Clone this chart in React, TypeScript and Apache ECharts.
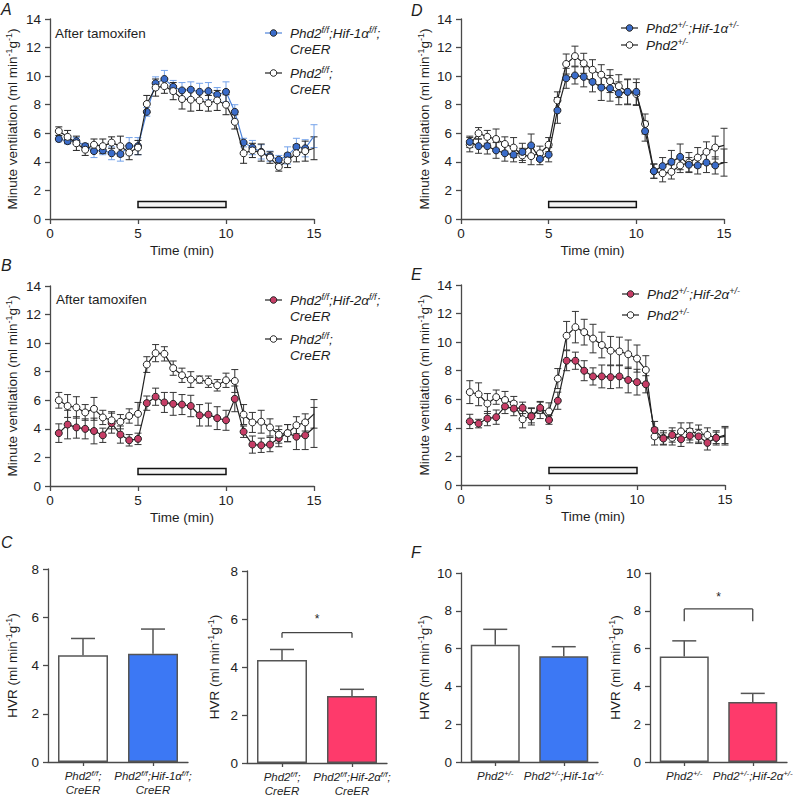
import React, { useEffect, useRef } from 'react';
import * as echarts from 'echarts';

const FONT = '"Liberation Sans", Arial, Helvetica, sans-serif';
const TXT = '#1e1e1e';
const AXIS = '#4a4a4a';
const FS = 13.5;

// ---------- time-course data ----------
const time = [0.5, 1, 1.5, 2, 2.5, 3, 3.5, 4, 4.5, 5, 5.5, 6, 6.5, 7, 7.5, 8, 8.5, 9, 9.5, 10, 10.5, 11, 11.5, 12, 12.5, 13, 13.5, 14, 14.5, 15];
const timeTicks = [0, 5, 10, 15];

// Panel A
const aHif1Mean = [5.6, 5.45, 5.45, 5.1, 4.75, 4.8, 4.6, 4.55, 5.1, 5.1, 7.5, 9.5, 9.8, 9.25, 9.0, 9.05, 8.9, 8.95, 8.7, 8.9, 7.5, 5.35, 5.0, 4.7, 4.4, 4.15, 4.45, 5.05, 4.95, 5.8];
const aHif1Err = [0.2, 0.2, 0.25, 0.2, 0.45, 0.3, 0.45, 0.5, 0.6, 0.6, 0.3, 0.45, 0.6, 0.45, 0.55, 0.55, 0.6, 0.6, 0.5, 0.7, 0.5, 0.3, 0.5, 0.5, 0.35, 0.3, 0.6, 0.6, 0.6, 0.8];
const aCtrlMean = [6.15, 5.75, 5.3, 4.85, 5.2, 5.1, 5.35, 5.1, 4.65, 5.0, 8.05, 9.2, 9.3, 8.95, 8.4, 8.35, 8.3, 8.1, 8.3, 8.0, 6.8, 4.6, 4.8, 4.65, 4.3, 3.65, 4.1, 4.6, 4.75, 4.95];
const aCtrlErr = [0.3, 0.45, 0.5, 0.4, 0.4, 0.5, 0.4, 0.7, 0.5, 0.5, 0.6, 0.6, 0.5, 0.6, 0.7, 0.8, 0.7, 0.55, 0.7, 0.7, 0.5, 0.7, 0.5, 0.6, 0.4, 0.3, 0.5, 0.6, 0.7, 0.8];

// Panel D
const dHif1Mean = [5.4, 5.1, 5.1, 4.8, 4.6, 4.5, 4.7, 5.15, 4.2, 4.5, 7.6, 9.85, 10.05, 9.95, 9.6, 9.2, 9.15, 8.8, 8.9, 8.9, 6.15, 3.35, 3.7, 4.0, 4.35, 3.8, 3.75, 3.95, 3.75, 3.95];
const dHif1Err = [0.4, 0.5, 0.55, 0.55, 0.55, 0.5, 0.6, 0.8, 0.4, 0.5, 0.9, 0.7, 0.6, 0.7, 0.7, 0.9, 0.9, 0.8, 0.9, 0.9, 0.7, 0.5, 0.6, 0.8, 0.9, 0.5, 0.6, 0.7, 0.6, 0.95];
const dCtrlMean = [5.2, 6.0, 5.75, 5.6, 5.25, 5.0, 4.45, 4.4, 4.6, 5.2, 8.3, 10.85, 11.4, 10.9, 10.45, 10.1, 9.65, 9.3, 8.9, 8.75, 6.65, 3.35, 3.2, 3.3, 3.75, 3.95, 4.3, 4.7, 5.0, 5.15];
const dCtrlErr = [0.5, 0.4, 0.45, 0.7, 0.5, 0.7, 0.5, 0.6, 0.5, 0.5, 0.6, 0.7, 0.7, 0.7, 0.7, 0.7, 0.8, 0.8, 0.85, 0.8, 0.7, 0.5, 0.6, 0.5, 0.5, 0.7, 0.7, 0.7, 0.8, 1.2];

// Panel B
const bHif2Mean = [3.7, 4.3, 4.1, 4.0, 3.85, 3.55, 4.4, 3.6, 3.2, 3.3, 5.8, 6.25, 5.85, 5.75, 5.7, 5.6, 4.95, 5.0, 4.75, 4.6, 6.1, 3.8, 2.9, 2.85, 2.9, 3.35, 3.7, 3.45, 3.55, 4.1];
const bHif2Err = [0.65, 1.0, 0.75, 0.7, 0.9, 0.5, 0.7, 0.6, 0.4, 0.4, 0.5, 0.6, 0.7, 0.8, 0.7, 0.75, 0.75, 0.8, 0.8, 0.7, 0.9, 0.4, 0.6, 0.5, 0.5, 0.6, 0.6, 0.9, 1.0, 1.4];
const bCtrlMean = [6.0, 5.6, 5.5, 5.15, 5.4, 4.8, 4.6, 4.5, 4.9, 5.05, 8.5, 9.3, 9.25, 8.25, 7.75, 7.45, 7.45, 7.3, 7.05, 7.4, 7.35, 5.0, 4.45, 4.5, 4.1, 3.6, 3.7, 4.25, 4.45, 5.05];
const bCtrlErr = [0.55, 0.8, 0.75, 0.55, 0.8, 0.5, 0.6, 0.5, 0.5, 0.8, 0.55, 0.6, 0.5, 0.5, 0.5, 0.55, 0.25, 0.4, 0.4, 0.5, 0.8, 0.7, 0.7, 0.8, 0.6, 0.6, 0.6, 0.6, 0.6, 1.0];

// Panel E
const eHif2Mean = [4.45, 4.3, 4.65, 4.75, 5.5, 5.35, 5.4, 4.8, 5.4, 4.55, 5.9, 8.7, 8.7, 8.0, 7.6, 7.6, 7.55, 7.6, 7.35, 7.2, 7.05, 3.85, 3.25, 3.5, 3.2, 3.45, 3.4, 2.95, 3.3, 3.4];
const eHif2Err = [0.5, 0.3, 0.5, 0.5, 0.5, 0.5, 0.4, 0.6, 0.4, 0.3, 0.6, 0.7, 0.6, 0.7, 0.6, 0.8, 0.8, 0.8, 0.9, 0.9, 0.6, 0.6, 0.4, 0.5, 0.5, 0.5, 0.5, 0.5, 0.4, 0.6];
const eCtrlMean = [6.5, 6.35, 5.7, 6.15, 5.95, 5.7, 4.6, 4.85, 5.25, 5.15, 7.45, 10.45, 11.05, 10.7, 10.25, 9.8, 9.4, 9.35, 9.15, 8.85, 8.05, 3.4, 3.3, 3.3, 3.75, 3.75, 3.6, 3.5, 3.3, 3.5];
const eCtrlErr = [0.8, 0.8, 0.7, 0.5, 0.6, 0.5, 0.6, 0.5, 0.6, 0.6, 0.7, 1.0, 1.1, 0.9, 1.0, 0.9, 1.0, 1.0, 1.0, 0.95, 1.0, 0.6, 0.5, 0.5, 0.6, 0.6, 0.6, 0.5, 0.5, 0.6];

// hypoxia period box
const hypoxiaStart = 5;
const hypoxiaEnd = 10;
const boxLow = 0.8;
const boxHigh = 1.22;

// ---------- HVR bar data ----------
const catC1 = ['Phd2f/f;CreER', 'Phd2f/f;Hif-1αf/f;CreER'];
const catC2 = ['Phd2f/f;CreER', 'Phd2f/f;Hif-2αf/f;CreER'];
const catF1 = ['Phd2+/-', 'Phd2+/-;Hif-1α+/-'];
const catF2 = ['Phd2+/-', 'Phd2+/-;Hif-2α+/-'];
const c1Mean = [4.42, 4.49];
const c1Err = [0.7, 1.02];
const c2Mean = [4.29, 2.79];
const c2Err = [0.44, 0.28];
const f1Mean = [6.2, 5.6];
const f1Err = [0.82, 0.5];
const f2Mean = [5.58, 3.17];
const f2Err = [0.83, 0.46];
// significance brackets: [cat from, cat to, bar level, leg end, star level]
const c2Sig = [[0, 1, 5.43, 5.22, 6.02]];
const f2Sig = [[0, 1, 8.1, 7.45, 8.75]];

const hvrTicksC = [0, 2, 4, 6, 8];
const hvrTicksF = [0, 2, 4, 6, 8, 10];

// colours
const BLUE_FILL = '#3a6cca';
const BLUE_LINE = '#4d84db';
const BLUE_ERR = '#74a3ea';
const PINK_FILL = '#c63d66';
const BAR_BLUE = '#3c78f4';
const BAR_PINK = '#fe3a6b';

const richLabels: Record<string, string> = {
  'Phd2f/f;CreER': '{i|Phd2}{s|f/f}{i|;}\n{i|CreER}',
  'Phd2f/f;Hif-1αf/f;CreER': '{i|Phd2}{s|f/f}{i|;Hif-1α}{s|f/f}{i|;}\n{i|CreER}',
  'Phd2f/f;Hif-2αf/f;CreER': '{i|Phd2}{s|f/f}{i|;Hif-2α}{s|f/f}{i|;}\n{i|CreER}',
  'Phd2+/-': '{i|Phd2}{s|+/-}',
  'Phd2+/-;Hif-1α+/-': '{i|Phd2}{s|+/-}{i|;Hif-1α}{s|+/-}',
  'Phd2+/-;Hif-2α+/-': '{i|Phd2}{s|+/-}{i|;Hif-2α}{s|+/-}',
};

const gridDefs = [
  { left: 50, top: 19, width: 264, height: 200 }, // A
  { left: 461, top: 19, width: 263, height: 200 }, // D
  { left: 50, top: 286, width: 264, height: 200 }, // B
  { left: 461, top: 285, width: 264, height: 200 }, // E
  { left: 48, top: 569, width: 140, height: 193 }, // C1
  { left: 247, top: 571, width: 140, height: 192 }, // C2
  { left: 461, top: 573, width: 137, height: 189 }, // F1
  { left: 650, top: 573, width: 137, height: 189 }, // F2
];

const axisLineCommon = { show: true, lineStyle: { color: AXIS, width: 1.3 } };
const axisTickCommon = { show: true, length: 5, lineStyle: { color: AXIS, width: 1.3 } };
const labelCommon = { color: TXT, fontSize: FS, fontFamily: FONT };

const nameRich = {
  n: { fontSize: FS, fontFamily: FONT, color: TXT, lineHeight: 16 },
  s: { fontSize: 9, fontFamily: FONT, color: TXT, lineHeight: 9, verticalAlign: 'top' },
};
const mvName = '{n|Minute ventilation (ml min}{s|-1}{n|g}{s|-1}{n|)}';
const hvrName = '{n|HVR (ml min}{s|-1}{n|g}{s|-1}{n|)}';

function timeX(idx: number) {
  return {
    type: 'value', gridIndex: idx, min: timeTicks[0], max: timeTicks[timeTicks.length - 1], interval: 5,
    axisLine: axisLineCommon, axisTick: axisTickCommon, splitLine: { show: false },
    axisLabel: { ...labelCommon, margin: 7 },
    name: 'Time (min)', nameLocation: 'middle', nameGap: 24,
    nameTextStyle: { color: TXT, fontSize: FS, fontFamily: FONT },
  };
}
function mvY(idx: number, gap: number) {
  return {
    type: 'value', gridIndex: idx, min: 0, max: 14, interval: 2,
    axisLine: axisLineCommon, axisTick: axisTickCommon, splitLine: { show: false },
    axisLabel: { ...labelCommon, margin: 9 },
    name: mvName, nameLocation: 'middle', nameGap: gap, nameRotate: 90,
    nameTextStyle: { rich: nameRich },
  };
}
function catX(idx: number, cats: string[]) {
  return {
    type: 'category', gridIndex: idx, data: cats,
    axisLine: axisLineCommon,
    axisTick: { show: true, alignWithLabel: true, length: 4, lineStyle: { color: AXIS, width: 1.3 } },
    axisLabel: {
      interval: 0, margin: 7,
      formatter: (v: string) => richLabels[v] || v,
      rich: {
        i: { fontSize: 11.5, fontStyle: 'italic', fontFamily: FONT, color: TXT, lineHeight: 14 },
        s: { fontSize: 8, fontStyle: 'italic', fontFamily: FONT, color: TXT, lineHeight: 7, verticalAlign: 'top' },
      },
    },
  };
}
function hvrY(idx: number, ticks: number[], gap: number) {
  return {
    type: 'value', gridIndex: idx, min: ticks[0], max: ticks[ticks.length - 1], interval: 2,
    axisLine: axisLineCommon, axisTick: axisTickCommon, splitLine: { show: false },
    axisLabel: { ...labelCommon, margin: 9 },
    name: hvrName, nameLocation: 'middle', nameGap: gap, nameRotate: 90,
    nameTextStyle: { rich: nameRich },
  };
}

function lineSeries(idx: number, name: string, mean: number[], fill: string, lineColor: string, z: number, box: boolean) {
  const s: any = {
    type: 'line', name, xAxisIndex: idx, yAxisIndex: idx,
    data: time.map((t, i) => (i === time.length - 1 ? { value: [t, mean[i]], symbol: 'none' } : [t, mean[i]])),
    symbol: 'circle', symbolSize: 7,
    lineStyle: { color: lineColor, width: 1.2 },
    itemStyle: { color: fill, borderColor: '#222', borderWidth: 1 },
    z,
    silent: true,
  };
  if (box) {
    s.markArea = {
      silent: true,
      itemStyle: { color: '#f3f3f3', borderColor: '#111', borderWidth: 1.5 },
      data: [[{ coord: [hypoxiaStart, boxLow] }, { coord: [hypoxiaEnd, boxHigh] }]],
    };
  }
  return s;
}

function errSeries(idx: number, mean: number[], err: number[], color: string, z: number) {
  return {
    type: 'custom', xAxisIndex: idx, yAxisIndex: idx, silent: true, z,
    data: time.map((t, i) => [t, mean[i] - err[i], mean[i] + err[i]]),
    encode: { x: 0, y: [1, 2] },
    renderItem: (_p: any, api: any) => {
      const x = api.value(0);
      const lo = api.coord([x, api.value(1)]);
      const hi = api.coord([x, api.value(2)]);
      const w = 3.5;
      const st = { stroke: color, lineWidth: 1 };
      return {
        type: 'group',
        children: [
          { type: 'line', shape: { x1: lo[0], y1: lo[1], x2: hi[0], y2: hi[1] }, style: st },
          { type: 'line', shape: { x1: lo[0] - w, y1: lo[1], x2: lo[0] + w, y2: lo[1] }, style: st },
          { type: 'line', shape: { x1: hi[0] - w, y1: hi[1], x2: hi[0] + w, y2: hi[1] }, style: st },
        ],
      };
    },
  };
}

function barSeries(idx: number, mean: number[], colors: string[], width: number) {
  return {
    type: 'bar', xAxisIndex: idx, yAxisIndex: idx, barWidth: width, silent: true,
    data: mean.map((v, i) => ({ value: v, itemStyle: { color: colors[i] } })),
    itemStyle: { borderColor: '#555', borderWidth: 1.5 },
    z: 2,
  };
}
function barErrSeries(idx: number, mean: number[], err: number[]) {
  return {
    type: 'custom', xAxisIndex: idx, yAxisIndex: idx, silent: true, z: 1,
    data: mean.map((v, i) => [i, v, v + err[i]]),
    encode: { x: 0, y: [1, 2] },
    renderItem: (_p: any, api: any) => {
      const c = api.value(0);
      const lo = api.coord([c, api.value(1)]);
      const hi = api.coord([c, api.value(2)]);
      const w = 12;
      const st = { stroke: '#555', lineWidth: 1.5 };
      return {
        type: 'group',
        children: [
          { type: 'line', shape: { x1: lo[0], y1: lo[1], x2: hi[0], y2: hi[1] }, style: st },
          { type: 'line', shape: { x1: hi[0] - w, y1: hi[1], x2: hi[0] + w, y2: hi[1] }, style: st },
        ],
      };
    },
  };
}
function sigSeries(idx: number, sig: number[][]) {
  return {
    type: 'custom', xAxisIndex: idx, yAxisIndex: idx, silent: true, z: 3,
    data: sig,
    encode: { x: [0, 1], y: [2, 3, 4] },
    renderItem: (_p: any, api: any) => {
      const a = api.coord([api.value(0), api.value(2)]);
      const b = api.coord([api.value(1), api.value(2)]);
      const legY = api.coord([api.value(0), api.value(3)])[1];
      const starY = api.coord([api.value(0), api.value(4)])[1];
      const st = { stroke: '#444', lineWidth: 1.3 };
      return {
        type: 'group',
        children: [
          { type: 'line', shape: { x1: a[0], y1: a[1], x2: b[0], y2: b[1] }, style: st },
          { type: 'line', shape: { x1: a[0], y1: a[1], x2: a[0], y2: legY }, style: st },
          { type: 'line', shape: { x1: b[0], y1: b[1], x2: b[0], y2: legY }, style: st },
          { type: 'text', x: (a[0] + b[0]) / 2, y: starY, style: { text: '*', font: `12px ${FONT}`, fill: TXT, align: 'center', verticalAlign: 'middle' } },
        ],
      };
    },
  };
}

// ---------- graphic texts / legends ----------
const legRich = {
  i: { font: `italic ${FS}px ${FONT}`, fill: TXT, lineHeight: 16 },
  s: { font: `italic 9px ${FONT}`, fill: TXT, lineHeight: 9, verticalAlign: 'top' },
};
function legendItem(x: number, y: number, text: string, lineColor: string, fill: string) {
  return [
    { type: 'line', shape: { x1: x, y1: y, x2: x + 17, y2: y }, style: { stroke: lineColor, lineWidth: 1.2 } },
    { type: 'circle', shape: { cx: x + 8.5, cy: y, r: 3.3 }, style: { fill, stroke: '#222', lineWidth: 1 } },
    { type: 'text', x: x + 25, y: y - 8, style: { text, rich: legRich, font: `italic ${FS}px ${FONT}`, fill: TXT, align: 'left', verticalAlign: 'top' } },
  ];
}
function plainText(x: number, y: number, text: string, font: string) {
  return { type: 'text', x, y, style: { text, font, fill: TXT, align: 'left', verticalAlign: 'middle' } };
}

const LEG_FF_HIF1 = '{i|Phd2}{s|f/f}{i|;Hif-1α}{s|f/f}{i|;}\n{i|CreER}';
const LEG_FF_HIF2 = '{i|Phd2}{s|f/f}{i|;Hif-2α}{s|f/f}{i|;}\n{i|CreER}';
const LEG_FF = '{i|Phd2}{s|f/f}{i|;}\n{i|CreER}';
const LEG_HET_HIF1 = '{i|Phd2}{s|+/-}{i|;Hif-1α}{s|+/-}';
const LEG_HET_HIF2 = '{i|Phd2}{s|+/-}{i|;Hif-2α}{s|+/-}';
const LEG_HET = '{i|Phd2}{s|+/-}';

export default function App() {
  const ref = useRef<HTMLDivElement>(null);
  useEffect(() => {
    if (!ref.current) return;
    const chart = echarts.init(ref.current, undefined, { renderer: 'svg' });
    const letterFont = `italic 16px ${FONT}`;
    const option: any = {
      animation: false,
      backgroundColor: '#ffffff',
      grid: gridDefs.map((g) => ({ ...g, containLabel: false })),
      xAxis: [
        timeX(0), timeX(1), timeX(2), timeX(3),
        catX(4, catC1), catX(5, catC2), catX(6, catF1), catX(7, catF2),
      ],
      yAxis: [
        mvY(0, 30), mvY(1, 29), mvY(2, 30), mvY(3, 29),
        hvrY(4, hvrTicksC, 28), hvrY(5, hvrTicksC, 25), hvrY(6, hvrTicksF, 29), hvrY(7, hvrTicksF, 25),
      ],
      series: [
        // A
        errSeries(0, aHif1Mean, aHif1Err, BLUE_ERR, 2),
        errSeries(0, aCtrlMean, aCtrlErr, '#222', 2),
        lineSeries(0, 'Phd2f/f;Hif-1αf/f;CreER', aHif1Mean, BLUE_FILL, BLUE_LINE, 4, true),
        lineSeries(0, 'Phd2f/f;CreER (A)', aCtrlMean, '#ffffff', '#222', 5, false),
        // D
        errSeries(1, dHif1Mean, dHif1Err, '#333', 2),
        errSeries(1, dCtrlMean, dCtrlErr, '#333', 2),
        lineSeries(1, 'Phd2+/-;Hif-1α+/-', dHif1Mean, BLUE_FILL, '#222', 5, true),
        lineSeries(1, 'Phd2+/- (D)', dCtrlMean, '#ffffff', '#222', 4, false),
        // B
        errSeries(2, bHif2Mean, bHif2Err, '#333', 2),
        errSeries(2, bCtrlMean, bCtrlErr, '#333', 2),
        lineSeries(2, 'Phd2f/f;Hif-2αf/f;CreER', bHif2Mean, PINK_FILL, '#222', 4, true),
        lineSeries(2, 'Phd2f/f;CreER (B)', bCtrlMean, '#ffffff', '#222', 5, false),
        // E
        errSeries(3, eHif2Mean, eHif2Err, '#333', 2),
        errSeries(3, eCtrlMean, eCtrlErr, '#333', 2),
        lineSeries(3, 'Phd2+/-;Hif-2α+/-', eHif2Mean, PINK_FILL, '#222', 5, true),
        lineSeries(3, 'Phd2+/- (E)', eCtrlMean, '#ffffff', '#222', 4, false),
        // C
        barSeries(4, c1Mean, ['#ffffff', BAR_BLUE], 50),
        barErrSeries(4, c1Mean, c1Err),
        barSeries(5, c2Mean, ['#ffffff', BAR_PINK], 50),
        barErrSeries(5, c2Mean, c2Err),
        sigSeries(5, c2Sig),
        // F
        barSeries(6, f1Mean, ['#ffffff', BAR_BLUE], 49),
        barErrSeries(6, f1Mean, f1Err),
        barSeries(7, f2Mean, ['#ffffff', BAR_PINK], 49),
        barErrSeries(7, f2Mean, f2Err),
        sigSeries(7, f2Sig),
      ],
      graphic: {
        elements: [
          plainText(1, 9, 'A', letterFont),
          plainText(411, 10, 'D', letterFont),
          plainText(1, 265, 'B', letterFont),
          plainText(411, 274, 'E', letterFont),
          plainText(1, 542, 'C', letterFont),
          plainText(411, 552, 'F', letterFont),
          plainText(55, 33, 'After tamoxifen', `${FS}px ${FONT}`),
          plainText(56, 299, 'After tamoxifen', `${FS}px ${FONT}`),
          ...legendItem(265, 33, LEG_FF_HIF1, BLUE_LINE, BLUE_FILL),
          ...legendItem(265, 73, LEG_FF, '#222', '#ffffff'),
          ...legendItem(621, 28, LEG_HET_HIF1, '#222', BLUE_FILL),
          ...legendItem(621, 45, LEG_HET, '#222', '#ffffff'),
          ...legendItem(265, 300, LEG_FF_HIF2, '#222', PINK_FILL),
          ...legendItem(265, 339, LEG_FF, '#222', '#ffffff'),
          ...legendItem(622, 294, LEG_HET_HIF2, '#222', PINK_FILL),
          ...legendItem(622, 315, LEG_HET, '#222', '#ffffff'),
        ],
      },
    };
    chart.setOption(option);
    return () => chart.dispose();
  }, []);
  return (
    <div
      ref={ref}
      style={{ position: 'absolute', left: 0, top: 0, width: 797, height: 797, background: '#fff' }}
    />
  );
}
